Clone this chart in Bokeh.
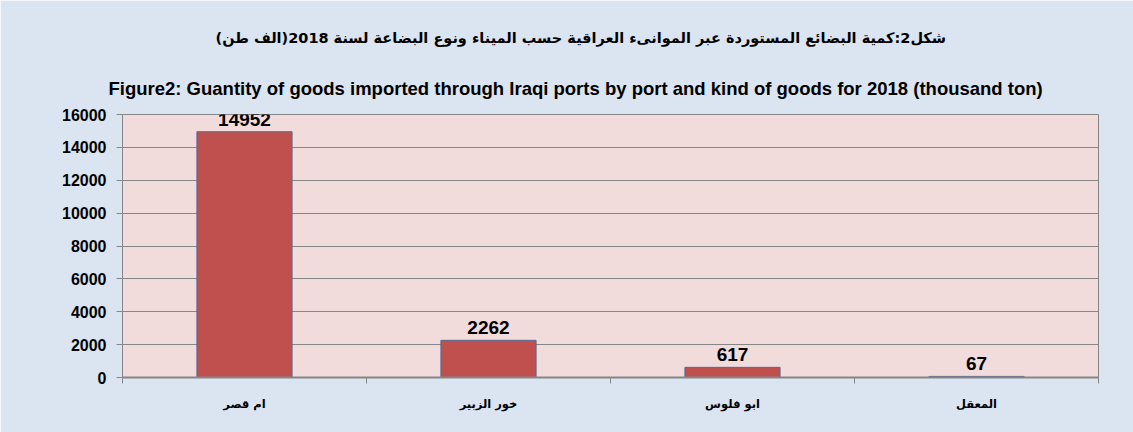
from bokeh.plotting import figure
from bokeh.models import Title, FixedTicker, ColumnDataSource, Range1d
from bokeh.embed import file_html
from bokeh.resources import INLINE

categories = ["ام قصر", "خور الزبير", "ابو فلوس", "المعقل"]
values = [14952, 2262, 617, 67]
y_ticks = [0, 2000, 4000, 6000, 8000, 10000, 12000, 14000, 16000]
title_ar = "شكل2:كمية البضائع المستوردة عبر الموانىء العراقية حسب الميناء ونوع البضاعة لسنة 2018(الف طن)"
title_en = "Figure2: Guantity of goods imported through Iraqi ports by port and kind of goods for 2018 (thousand ton)"

xs = [i + 0.5 for i in range(len(categories))]
src = ColumnDataSource(dict(x=xs, top=values, label=[str(v) for v in values]))

FONT = "Liberation Sans"
AR_FONT = "DejaVu Sans"
p = figure(width=1133, height=432, output_backend="svg", toolbar_location=None,
           x_range=Range1d(0, len(categories)), y_range=Range1d(0, 16000),
           min_border_left=122, min_border_right=35, min_border_bottom=55, min_border_top=114)
p.background_fill_color = "#f2dcdb"
p.border_fill_color = "#dbe5f1"
p.outline_line_color = "#868686"

p.add_layout(Title(text=title_en, text_font=FONT, text_font_size="18.5px", text_font_style="bold",
                   text_color="black", align="left", offset=-14, standoff=31), "above")
p.add_layout(Title(text=title_ar, text_font=AR_FONT, text_font_size="14.5px", text_font_style="bold",
                   text_color="black", align="left", offset=93, standoff=30), "above")

p.vbar(x="x", top="top", width=0.39, source=src, fill_color="#c0504d", line_color="#4f6b99", line_width=1)
p.text(x="x", y="top", text="label", source=src, text_align="center", text_baseline="bottom",
       y_offset=-6, text_font_size="19px", text_font_style="bold", text_color="black",
       text_font={"value": FONT})

p.xgrid.visible = False
p.ygrid.ticker = FixedTicker(ticks=y_ticks)
p.ygrid.grid_line_color = "#868686"
p.ygrid.grid_line_width = 1

p.yaxis.ticker = FixedTicker(ticks=y_ticks)
p.yaxis.axis_line_color = "#868686"
p.yaxis.major_tick_line_color = "#868686"
p.yaxis.major_tick_out = 6
p.yaxis.major_tick_in = 0
p.yaxis.minor_tick_line_color = None
p.yaxis.major_label_text_font = FONT
p.yaxis.major_label_text_font_size = "16px"
p.yaxis.major_label_text_font_style = "bold"
p.yaxis.major_label_text_color = "black"
p.yaxis.major_label_standoff = 10

p.xaxis.ticker = FixedTicker(ticks=xs, minor_ticks=list(range(len(categories) + 1)))
p.xaxis.major_label_overrides = {x: c for x, c in zip(xs, categories)}
p.xaxis.axis_line_color = "#868686"
p.xaxis.axis_line_width = 2
p.xaxis.major_tick_line_color = None
p.xaxis.minor_tick_line_color = "#868686"
p.xaxis.minor_tick_out = 6
p.xaxis.minor_tick_in = 0
p.xaxis.major_label_text_font = AR_FONT
p.xaxis.major_label_text_font_size = "11.5px"
p.xaxis.major_label_text_font_style = "bold"
p.xaxis.major_label_text_color = "black"
p.xaxis.major_label_standoff = 13

open("out.html", "w").write(file_html(p, INLINE))
